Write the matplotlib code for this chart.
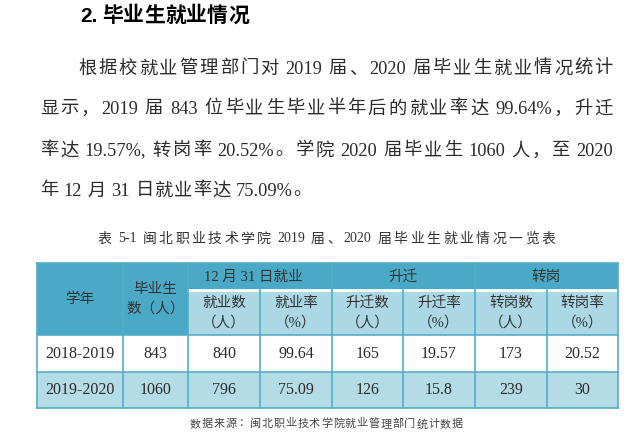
import matplotlib
matplotlib.use("Agg")
import matplotlib.pyplot as plt
from matplotlib.patches import Rectangle

# table data
years = ["2018-2019", "2019-2020"]
graduates = ["843", "1060"]
employed = ["840", "796"]
emp_rate = ["99.64", "75.09"]
promoted = ["165", "126"]
promo_rate = ["19.57", "15.8"]
transfer = ["173", "239"]
transfer_rate = ["20.52", "30"]

group_heads = ["12 月 31 日就业", "升迁", "转岗"]
sub_heads = ["就业数\n（人）", "就业率\n（%）", "升迁数\n（人）", "升迁率\n（%）",
             "转岗数\n（人）", "转岗率\n（%）"]

title = "2. 毕业生就业情况"
para = [
    "根据校就业管理部门对 2019 届、2020 届毕业生就业情况统计",
    "显示，2019 届 843 位毕业生毕业半年后的就业率达 99.64%，升迁",
    "率达 19.57%, 转岗率 20.52%。学院 2020 届毕业生 1060 人，至 2020",
    "年 12 月 31 日就业率达 75.09%。",
]
caption = "表 5-1 闽北职业技术学院 2019 届、2020 届毕业生就业情况一览表"
source = "数据来源：闽北职业技术学院就业管理部门统计数据"

SERIF = ["Liberation Serif", "Noto Sans CJK SC"]
SANS_B = ["Liberation Sans", "Noto Sans CJK SC"]
TXT = "#2b2b2b"

HEAD = "#4aa9c6"
SUB = "#acd7e4"
ROW2 = "#b4dce7"
EDGE = "#56adc6"

fig = plt.figure(figsize=(6.43, 4.47), dpi=100)
ax = fig.add_axes([0, 0, 1, 1])
ax.set_xlim(0, 643)
ax.set_ylim(447, 0)
ax.axis("off")
renderer = fig.canvas.get_renderer()


def tokens(s):
    # ascii runs stay together, CJK chars are separate units
    out = []
    buf = ""
    for ch in s:
        if ch == " ":
            if buf:
                out.append(buf)
                buf = ""
            out.append(" ")
        elif ord(ch) < 128:
            buf += ch
        else:
            if buf:
                out.append(buf)
                buf = ""
            out.append(ch)
    if buf:
        out.append(buf)
    return out


def spread(s, x0, x1, y, size, family, color=TXT, weight="normal", fit=True):
    toks = tokens(s)
    px = size * 100 / 72
    widths = []
    for t in toks:
        if t == " ":
            widths.append(px * 0.25)
            continue
        tt = ax.text(0, 0, t, fontsize=size, family=family, weight=weight)
        widths.append(tt.get_window_extent(renderer).width)
        tt.remove()
    gaps = sum(1 for t in toks if t != " ") - 1
    extra = (x1 - x0 - sum(widths)) / max(gaps, 1) if fit else 0
    x = x0
    for t, w in zip(toks, widths):
        if t != " ":
            ax.text(x, y, t, fontsize=size, family=family, weight=weight,
                    color=color, ha="left", va="center")
            x += w + extra
        else:
            x += w


# heading and paragraph
spread(title, 80, 250, 16, 15, SANS_B, color="black", weight="bold", fit=False)
spread(para[0], 78, 613, 69, 13.2, SERIF)
spread(para[1], 40, 613, 109, 13.2, SERIF)
spread(para[2], 40, 613, 151, 13.2, SERIF)
spread(para[3], 40, 312, 191, 13.2, SERIF)
spread(caption, 98, 555, 239, 10, SERIF, color="#333333")

# table geometry
xs = [37, 123, 188, 260, 332, 403, 475, 547, 618]
y_top, y_mid, y_hdr = 263, 290, 335
row_edges = [335, 372, 408]

# header backgrounds
ax.add_patch(Rectangle((xs[0], y_top), xs[-1] - xs[0], y_hdr - y_top,
                       facecolor=HEAD, edgecolor="none"))
ax.add_patch(Rectangle((xs[2], y_mid), xs[-1] - xs[2], y_hdr - y_mid,
                       facecolor=SUB, edgecolor="none"))
ax.plot([xs[2], xs[-1]], [y_mid, y_mid], color="white", lw=2)
ax.add_patch(Rectangle((xs[0], row_edges[1]), xs[-1] - xs[0],
                       row_edges[2] - row_edges[1],
                       facecolor=ROW2, edgecolor="none"))

# grid lines
for yv in row_edges:
    ax.plot([xs[0], xs[-1]], [yv, yv], color=EDGE, lw=1.2)
ax.plot([xs[0], xs[-1]], [y_top, y_top], color=EDGE, lw=1.2)
for i, xv in enumerate(xs):
    top = y_mid if i in (3, 5, 7) else y_top
    ax.plot([xv, xv], [top, row_edges[-1]], color=EDGE, lw=1.2)

# header text
hdr_kw = dict(fontsize=10.5, family=SERIF, color="#333333", ha="center",
              va="center", linespacing=1.5)
ax.text((xs[0] + xs[1]) / 2, 299, "学年", **hdr_kw)
ax.text((xs[1] + xs[2]) / 2, 299, "毕业生\n数（人）", **hdr_kw)
ax.text(253, 277, group_heads[0], **hdr_kw)
ax.text((xs[4] + xs[6]) / 2, 277, group_heads[1], **hdr_kw)
ax.text((xs[6] + xs[8]) / 2, 277, group_heads[2], **hdr_kw)
for j, lab in enumerate(sub_heads):
    ax.text((xs[j + 2] + xs[j + 3]) / 2, 313, lab, **hdr_kw)

# body rows
cols = [years, graduates, employed, emp_rate, promoted, promo_rate,
        transfer, transfer_rate]
for r in range(2):
    yc = (row_edges[r] + row_edges[r + 1]) / 2
    for c, col in enumerate(cols):
        ax.text((xs[c] + xs[c + 1]) / 2, yc, col[r], fontsize=11.5,
                family=SERIF, color=TXT, ha="center", va="center")

spread(source, 190, 463, 424, 8, SERIF, color="#444444")

fig.savefig("out.png", dpi=100)
